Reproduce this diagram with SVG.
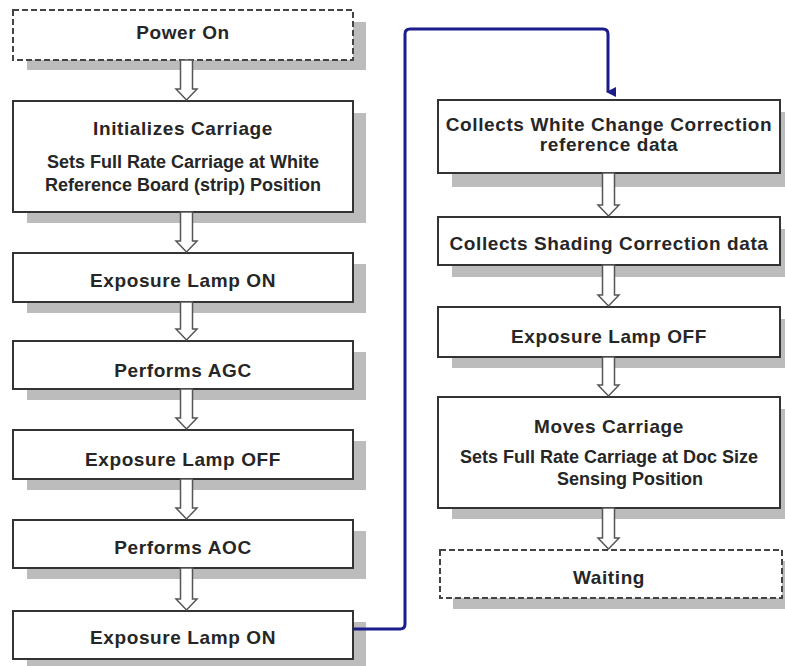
<svg xmlns="http://www.w3.org/2000/svg" width="785" height="666" viewBox="0 0 785 666">
<defs>
<style>
.shadow{fill:#bcbcbc;}
.box{fill:#fff;stroke:#333;stroke-width:2;}
.dash{fill:#fff;stroke:#444;stroke-width:2;stroke-dasharray:6 3;}
.t{font-family:"Liberation Sans",Arial,sans-serif;font-weight:bold;font-size:19px;letter-spacing:0.6px;fill:#262626;text-anchor:middle;}
.s{font-family:"Liberation Sans",Arial,sans-serif;font-weight:bold;font-size:18px;fill:#262626;text-anchor:middle;}
.arr{fill:#fff;stroke:#555;stroke-width:1.5;stroke-linejoin:miter;}
.blue{fill:none;stroke:#1c1c8c;stroke-width:3;}
</style>
<marker id="bh" markerWidth="10" markerHeight="10" refX="5" refY="8" orient="auto" markerUnits="userSpaceOnUse" viewBox="0 0 10 10">
<path d="M0,0 L10,0 L5,10 Z" fill="#1c1c8c"/>
</marker>
</defs>
<rect width="785" height="666" fill="#fff"/>

<g id="n-power-on">
<rect class="shadow" x="27" y="22" width="339" height="48"/>
<rect class="dash" x="13" y="10" width="340" height="50"/>
<text class="t" x="183" y="39">Power On</text>
</g>
<g id="n-init-carriage">
<rect class="shadow" x="27" y="113" width="339" height="110"/>
<rect class="box" x="13" y="101" width="340" height="111"/>
<text class="t" x="183" y="135">Initializes Carriage</text>
<text class="s" x="183" y="168">Sets Full Rate Carriage at White</text>
<text class="s" x="183" y="191">Reference Board (strip) Position</text>
</g>
<g id="n-lamp-on-1">
<rect class="shadow" x="27" y="264" width="339" height="49"/>
<rect class="box" x="13" y="253" width="340" height="49"/>
<text class="t" x="183" y="287">Exposure Lamp ON</text>
</g>
<g id="n-agc">
<rect class="shadow" x="27" y="352" width="339" height="48"/>
<rect class="box" x="13" y="341" width="340" height="48"/>
<text class="t" x="183" y="377">Performs AGC</text>
</g>
<g id="n-lamp-off-1">
<rect class="shadow" x="27" y="441" width="339" height="49"/>
<rect class="box" x="13" y="430" width="340" height="49"/>
<text class="t" x="183" y="466">Exposure Lamp OFF</text>
</g>
<g id="n-aoc">
<rect class="shadow" x="27" y="531" width="339" height="48"/>
<rect class="box" x="13" y="520" width="340" height="48"/>
<text class="t" x="183" y="554">Performs AOC</text>
</g>
<g id="n-lamp-on-2">
<rect class="shadow" x="27" y="622" width="339" height="48"/>
<rect class="box" x="13" y="611" width="340" height="48"/>
<text class="t" x="183" y="644">Exposure Lamp ON</text>
</g>

<g id="n-white-change">
<rect class="shadow" x="452" y="112" width="340" height="75"/>
<rect class="box" x="438" y="100" width="342" height="73"/>
<text class="t" x="609" y="131">Collects White Change Correction</text>
<text class="t" x="609" y="151">reference data</text>
</g>
<g id="n-shading">
<rect class="shadow" x="452" y="229" width="340" height="48"/>
<rect class="box" x="438" y="217" width="342" height="48"/>
<text class="t" x="609" y="250">Collects Shading Correction data</text>
</g>
<g id="n-lamp-off-2">
<rect class="shadow" x="452" y="319" width="340" height="49"/>
<rect class="box" x="438" y="307" width="342" height="50"/>
<text class="t" x="609" y="343">Exposure Lamp OFF</text>
</g>
<g id="n-moves-carriage">
<rect class="shadow" x="452" y="409" width="340" height="110"/>
<rect class="box" x="438" y="397" width="342" height="111"/>
<text class="t" x="609" y="433">Moves Carriage</text>
<text class="s" x="609" y="463">Sets Full Rate Carriage at Doc Size</text>
<text class="s" x="630" y="485">Sensing Position</text>
</g>
<g id="n-waiting">
<rect class="shadow" x="453" y="561" width="340" height="48"/>
<rect class="dash" x="440" y="550" width="342" height="48"/>
<text class="t" x="609" y="584">Waiting</text>
</g>

<g id="connectors">
<path class="arr" d="M180.5,60 V89 H176 L186.5,100 L197,89 H192.5 V60 Z"/>
<path class="arr" d="M180.5,212 V241 H176 L186.5,252 L197,241 H192.5 V212 Z"/>
<path class="arr" d="M180.5,302 V329 H176 L186.5,340 L197,329 H192.5 V302 Z"/>
<path class="arr" d="M180.5,389 V418 H176 L186.5,429 L197,418 H192.5 V389 Z"/>
<path class="arr" d="M180.5,479 V508 H176 L186.5,519 L197,508 H192.5 V479 Z"/>
<path class="arr" d="M180.5,568 V599 H176 L186.5,610 L197,599 H192.5 V568 Z"/>

<path class="arr" d="M602.5,173 V205 H598 L608.5,216 L619,205 H614.5 V173 Z"/>
<path class="arr" d="M602.5,265 V295 H598 L608.5,306 L619,295 H614.5 V265 Z"/>
<path class="arr" d="M602.5,357 V385 H598 L608.5,396 L619,385 H614.5 V357 Z"/>
<path class="arr" d="M602.5,508 V538 H598 L608.5,549 L619,538 H614.5 V508 Z"/>

<path class="blue" d="M353,629 H400 Q405,629 405,624 V34 Q405,29 410,29 H603 Q608,29 608,34 V92" marker-end="url(#bh)"/>
</g>
</svg>
